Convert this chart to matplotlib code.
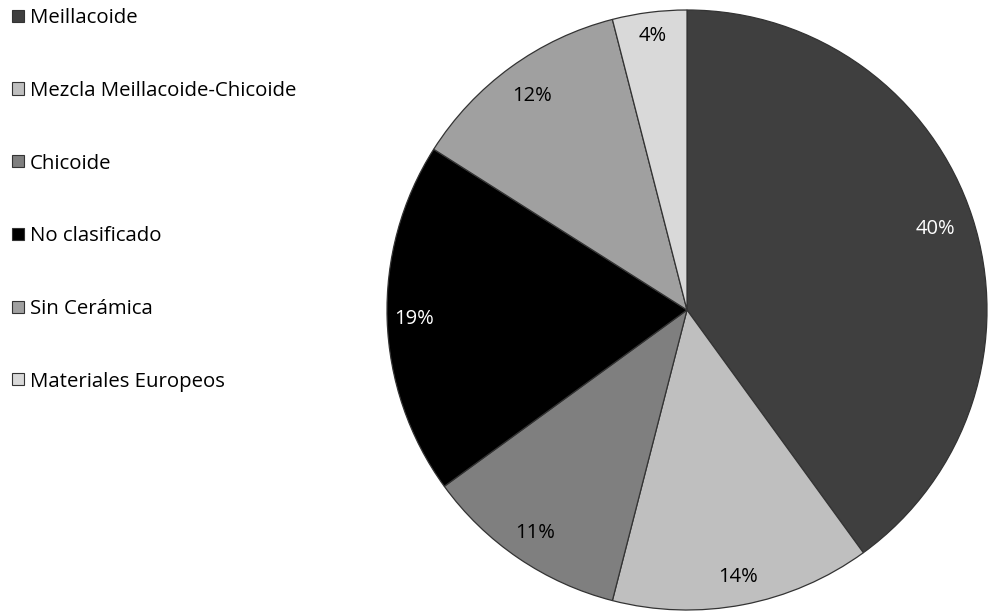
import matplotlib
matplotlib.use("Agg")
import numpy as np
import matplotlib.pyplot as plt
from matplotlib.patches import Patch

plt.rcParams['font.family'] = ['Open Sans', 'DejaVu Sans']

labels = ["Meillacoide", "Mezcla Meillacoide-Chicoide", "Chicoide",
          "No clasificado", "Sin Cerámica", "Materiales Europeos"]
values = [40, 14, 11, 19, 12, 4]
colors = ['#3f3f3f', '#bfbfbf', '#7f7f7f', '#000000', '#a0a0a0', '#d9d9d9']
text_colors = ['white', 'black', 'black', 'white', 'black', 'black']
# how far out each % label sits (fraction of radius)
label_dist = [0.87, 0.905, 0.9, 0.91, 0.88, 0.92]

W, H = 989, 611
fig = plt.figure(figsize=(W / 100, H / 100), dpi=100)

# pie area: centre ~(687,310), radius ~300 px
ax = fig.add_axes([387 / W, 1 - 610 / H, 600 / W, 600 / H])
wedges, texts, autotexts = ax.pie(values, colors=colors, startangle=90, counterclock=False,
                                  autopct='%1.0f%%', pctdistance=0.89, radius=1,
                                  wedgeprops=dict(edgecolor='#333333', linewidth=0.9))
for w, t, c, d in zip(wedges, autotexts, text_colors, label_dist):
    mid = np.deg2rad((w.theta1 + w.theta2) / 2)
    t.set_position((d * np.cos(mid), d * np.sin(mid)))
    t.set_color(c)
    t.set_fontsize(14.5)
ax.set_xlim(-1, 1)
ax.set_ylim(-1, 1)
ax.set_aspect('equal')
ax.axis('off')

handles = [Patch(facecolor=c, edgecolor='#333333', linewidth=0.8) for c in colors]
fig.legend(handles, labels, loc='upper left', bbox_to_anchor=(-0.002, 1.01), frameon=False,
           handlelength=0.55, handleheight=0.55, handletextpad=0.3,
           labelspacing=2.58, borderaxespad=0.3, fontsize=14.7)

plt.savefig("out.png", dpi=100)
plt.close()
